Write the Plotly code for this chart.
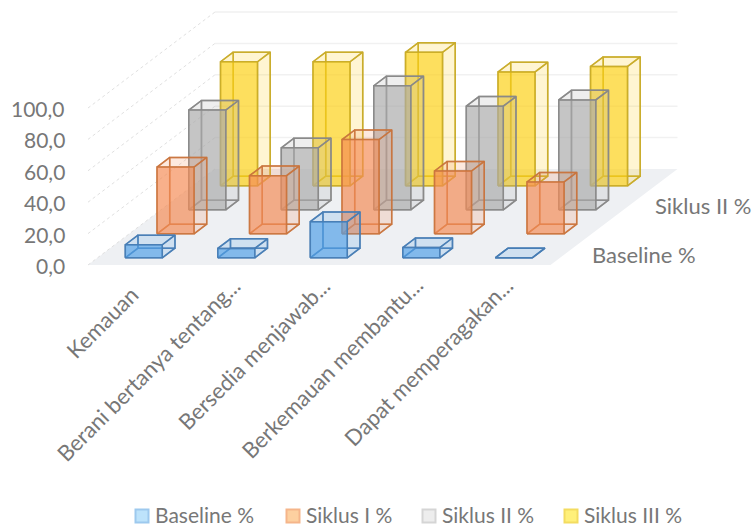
import plotly.graph_objects as go

categories = ["Kemauan", "Berani bertanya tentang...", "Bersedia menjawab...",
              "Berkemauan membantu...", "Dapat memperagakan..."]
series_names = ["Baseline %", "Siklus I %", "Siklus II %", "Siklus III %"]
baseline = [8.3, 6.0, 23.0, 6.5, 0.0]
siklus_1 = [42.5, 37.0, 60.0, 40.0, 33.0]
siklus_2 = [63.5, 39.5, 79.0, 66.0, 70.0]
siklus_3 = [79.0, 79.0, 85.0, 72.5, 76.0]
value_ticks = [0, 20, 40, 60, 80, 100]
tick_labels = ["0,0", "20,0", "40,0", "60,0", "80,0", "100,0"]

series_values = [baseline, siklus_1, siklus_2, siklus_3]
face_rgb = ["80,160,230", "245,140,85", "170,170,170", "252,208,20"]
edge_colors = ["rgba(70,125,180,0.85)", "rgba(200,115,60,0.8)",
               "rgba(135,135,135,0.85)", "rgba(200,170,40,0.85)"]
swatch_fill = ["#BDE3FB", "#FDD0A0", "#EDEDED", "#FFF07A"]
swatch_edge = ["#9DC9EE", "#F5B58A", "#D5D5D5", "#F3DC60"]
TEXT = "#777777"
FONT = "Lato"


def project(cat, row, value):
    """Oblique projection of (category, series row, value) onto the page plane."""
    return 88 + 92.5 * cat + 31.75 * row, 265 - 24 * row - 1.57 * value


def polygon(points):
    xs, ys = zip(*[project(*p) for p in points + points[:1]])
    return list(xs), list(ys)


def poly_trace(faces, fill, line_color, width=1.5):
    xs, ys = [], []
    for face in faces:
        fx, fy = polygon(face)
        xs += fx + [None]
        ys += fy + [None]
    return go.Scatter(x=xs, y=ys, mode="lines", fill="toself", fillcolor=fill,
                      line=dict(color=line_color, width=width),
                      hoverinfo="skip", showlegend=False)


fig = go.Figure()

# floor of the chart
fig.add_trace(poly_trace([[(0, 0, 0), (5, 0, 0), (5, 4, 0), (0, 4, 0)]],
                         "#EEF0F3", "rgba(0,0,0,0)", 0))

# gridlines running along the left wall and the back wall
for v in value_ticks:
    xs, ys = zip(*[project(0, 0, v), project(0, 4, v)])
    fig.add_trace(go.Scatter(x=xs, y=ys, mode="lines", hoverinfo="skip", showlegend=False,
                             line=dict(color="#E0E0E0", width=1, dash="dot")))
    if v > 0:
        xs, ys = zip(*[project(0, 4, v), project(5, 4, v)])
        fig.add_trace(go.Scatter(x=xs, y=ys, mode="lines", hoverinfo="skip", showlegend=False,
                                 line=dict(color="#F1F1F1", width=1.5)))

# cuboids, painted from the back row to the front row
for row in range(3, -1, -1):
    for cat, value in enumerate(series_values[row]):
        x0, x1 = cat + 0.3, cat + 0.7
        y0, y1 = row + 0.3, row + 0.7
        hidden = [
            [(x0, y1, 0), (x1, y1, 0), (x1, y1, value), (x0, y1, value)],
            [(x0, y0, 0), (x0, y1, 0), (x0, y1, value), (x0, y0, value)],
            [(x0, y0, 0), (x1, y0, 0), (x1, y1, 0), (x0, y1, 0)],
        ]
        fig.add_trace(poly_trace(hidden, f"rgba({face_rgb[row]},0.08)", edge_colors[row]))
        outer = [
            [(x1, y0, 0), (x1, y1, 0), (x1, y1, value), (x1, y0, value)],
            [(x0, y0, value), (x1, y0, value), (x1, y1, value), (x0, y1, value)],
        ]
        fig.add_trace(poly_trace(outer, f"rgba({face_rgb[row]},0.12)", edge_colors[row]))
        front = [[(x0, y0, 0), (x1, y0, 0), (x1, y0, value), (x0, y0, value)]]
        fig.add_trace(poly_trace(front, f"rgba({face_rgb[row]},0.66)", edge_colors[row]))

annotations = []

# value axis labels
for v, label in zip(value_ticks, tick_labels):
    annotations.append(dict(x=67, y=project(0, 0, v)[1] + 0.5, text=label, xanchor="right",
                            yanchor="middle", showarrow=False,
                            font=dict(family=FONT, size=21, color=TEXT)))

# category labels, read upward at 45 degrees
label_ends = [(146, 278), (248, 269), (338, 269), (431, 269), (521, 269)]
for name, (ex, ey) in zip(categories, label_ends):
    annotations.append(dict(x=ex, y=ey, text=name, textangle=-45, xanchor="right",
                            yanchor="top", showarrow=False,
                            font=dict(family=FONT, size=22, color=TEXT)))

# depth axis labels
for name, (lx, ly) in zip(["Baseline %", "Siklus II %"], [(644, 254), (703, 205)]):
    annotations.append(dict(x=lx, y=ly, text=name, showarrow=False,
                            font=dict(family=FONT, size=22, color=TEXT)))

# legend row
legend_swatch_x = [142, 293, 429, 571]
for name, sx, fill, edge in zip(series_names, legend_swatch_x, swatch_fill, swatch_edge):
    fig.add_trace(go.Scatter(x=[sx], y=[516], mode="markers", hoverinfo="skip", showlegend=False,
                             marker=dict(symbol="square", size=13, color=fill,
                                         line=dict(color=edge, width=2))))
    annotations.append(dict(x=sx + 11, y=514, text=name, xanchor="left", showarrow=False,
                            font=dict(family=FONT, size=21, color=TEXT)))

fig.update_layout(
    width=752, height=527, margin=dict(l=0, r=0, t=0, b=0),
    paper_bgcolor="white", plot_bgcolor="white", showlegend=False,
    xaxis=dict(range=[0, 752], visible=False, fixedrange=True),
    yaxis=dict(range=[527, 0], visible=False, fixedrange=True),
    annotations=annotations,
)

fig.write_html("out.html")
